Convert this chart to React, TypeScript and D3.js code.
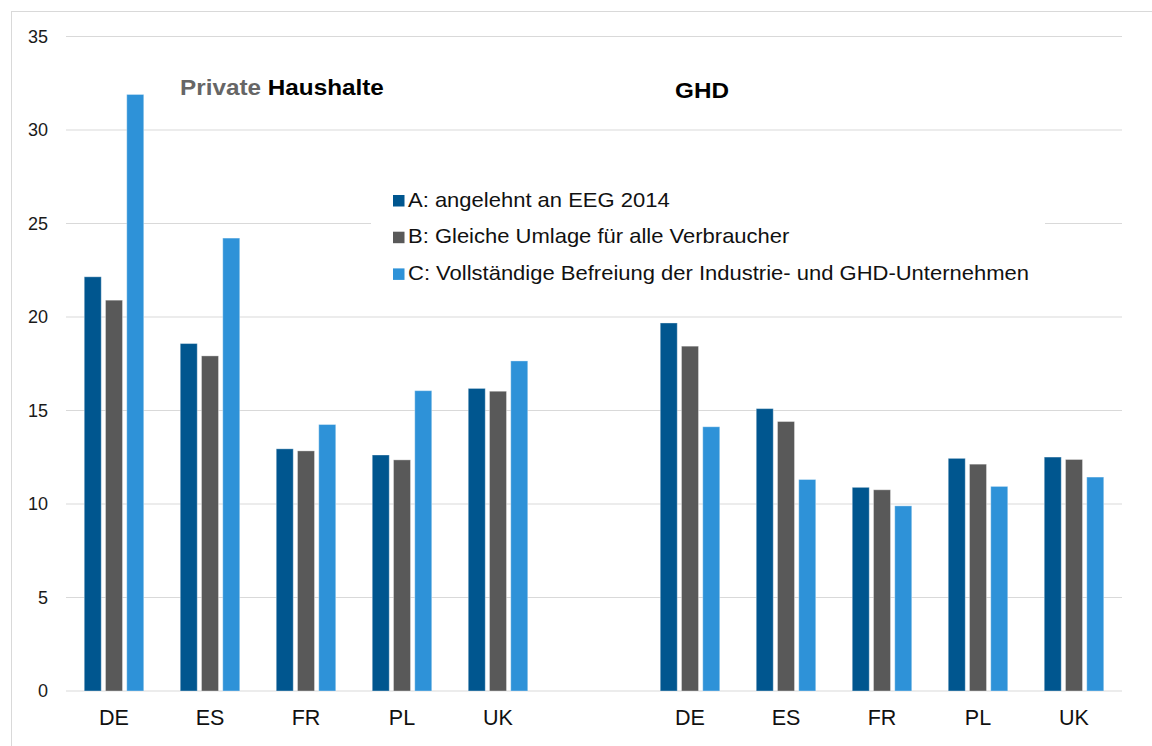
import React from 'react'
import * as d3 from 'd3'

const width = 1152
const height = 746
const margin = { top: 36.5, right: 30, bottom: 55, left: 66 }

const countries = ['DE', 'ES', 'FR', 'PL', 'UK']
const slots = ['H-DE', 'H-ES', 'H-FR', 'H-PL', 'H-UK', 'gap', 'G-DE', 'G-ES', 'G-FR', 'G-PL', 'G-UK']
const seriesKeys = ['A', 'B', 'C']
const seriesLabels = [
  'A: angelehnt an EEG 2014',
  'B: Gleiche Umlage für alle Verbraucher',
  'C: Vollständige Befreiung der Industrie- und GHD-Unternehmen',
]
const seriesColors = ['#00568f', '#595959', '#2e92d8']

// Private Haushalte
const haushalteA = [22.15, 18.58, 12.95, 12.62, 16.18]
const haushalteB = [20.9, 17.92, 12.84, 12.36, 16.03]
const haushalteC = [31.9, 24.22, 14.25, 16.06, 17.65]
// GHD
const ghdA = [19.68, 15.1, 10.89, 12.44, 12.51]
const ghdB = [18.44, 14.41, 10.76, 12.13, 12.38]
const ghdC = [14.13, 11.31, 9.9, 10.94, 11.44]

const yTicks = [0, 5, 10, 15, 20, 25, 30, 35]

const font = '"Liberation Sans", Arial, sans-serif'

const rows = [
  ...countries.map((c, i) => ({ slot: 'H-' + c, label: c, values: [haushalteA[i], haushalteB[i], haushalteC[i]] })),
  ...countries.map((c, i) => ({ slot: 'G-' + c, label: c, values: [ghdA[i], ghdB[i], ghdC[i]] })),
]

const groupWidth = 59.5

const App = () => {
  const x = d3
    .scaleBand()
    .domain(slots)
    .range([margin.left, width - margin.right])
  const inner = d3
    .scaleBand()
    .domain(seriesKeys)
    .range([0, groupWidth])
    .paddingInner(0.2)
  const y = d3
    .scaleLinear()
    .domain([0, 35])
    .range([height - margin.bottom, margin.top])

  const groupOffset = (x.bandwidth() - groupWidth) / 2

  return (
    <svg
      width={width}
      height={height}
      style={{ position: 'absolute', left: 0, top: 0, background: '#fff' }}
      fontFamily={font}
    >
      <rect x={11.5} y={11.5} width={width + 20} height={height + 20} fill="none" stroke="#d9d9d9" />
      {yTicks.map(t => (
        <g key={t}>
          <line x1={margin.left} x2={width - margin.right} y1={y(t)} y2={y(t)} stroke="#d9d9d9" strokeWidth={1.2} />
          <text x={48} y={y(t)} dy="0.35em" textAnchor="end" fontSize={18} fill="#1a1a1a">
            {t}
          </text>
        </g>
      ))}
      {rows.map(r => (
        <g key={r.slot} transform={`translate(${x(r.slot)! + groupOffset},0)`}>
          {r.values.map((v, i) => (
            <rect
              key={i}
              x={inner(seriesKeys[i])}
              y={y(v)}
              width={inner.bandwidth()}
              height={y(0) - y(v)}
              fill={seriesColors[i]}
              stroke="#fff"
              strokeOpacity={0.35}
              strokeWidth={1}
            />
          ))}
          <text x={groupWidth / 2} y={724.5} textAnchor="middle" fontSize={21.5} fill="#111">
            {r.label}
          </text>
        </g>
      ))}
      <g transform="translate(180,95) scale(1.13,1)">
        <text x={0} y={0} fontSize={21.5} fontWeight="bold">
          <tspan fill="#666">Private</tspan>
          <tspan fill="#000"> Haushalte</tspan>
        </text>
      </g>
      <g transform="translate(675,98) scale(1.13,1)">
        <text x={0} y={0} fontSize={21.5} fontWeight="bold" fill="#000">
          GHD
        </text>
      </g>
      <rect x={371} y={178} width={674} height={115} fill="#fff" />
      {seriesLabels.map((s, i) => (
        <g key={s} transform={`translate(393,${206.5 + i * 36.7})`}>
          <rect x={0} y={-11.5} width={11.5} height={11.5} fill={seriesColors[i]} />
          <g transform="translate(15,0) scale(1.1,1)">
            <text x={0} y={0} fontSize={20} fill="#111">
              {s}
            </text>
          </g>
        </g>
      ))}
    </svg>
  )
}

export default App
